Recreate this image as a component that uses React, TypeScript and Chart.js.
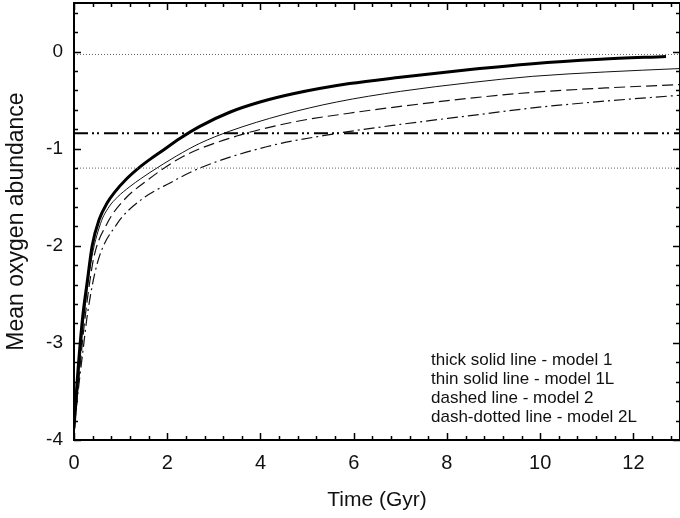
import { useEffect, useRef } from "react";
import { Chart, registerables } from "chart.js";

Chart.register(...registerables);

// ---- data ----
const model1T = [0, 0.07, 0.18, 0.29, 0.39, 0.54, 0.71, 0.87, 1.13, 1.41, 1.63, 1.84, 2.27, 2.7, 3.34, 3.99, 4.7, 5.91, 7.0, 8.5, 9.84, 11.3, 12.7];
const model1V = [-3.88, -3.38, -2.76, -2.35, -2.0, -1.73, -1.56, -1.45, -1.31, -1.19, -1.11, -1.04, -0.895, -0.77, -0.625, -0.52, -0.435, -0.33, -0.265, -0.185, -0.125, -0.08, -0.05];

const model1LT = [0, 0.1, 0.2, 0.36, 0.57, 0.75, 0.93, 1.2, 1.43, 1.63, 2.2, 2.7, 3.34, 4.48, 5.63, 7.0, 8.5, 9.84, 11.4, 13.0];
const model1LV = [-3.9, -3.35, -2.8, -2.18, -1.77, -1.6, -1.5, -1.39, -1.31, -1.245, -1.075, -0.945, -0.82, -0.65, -0.52, -0.41, -0.32, -0.255, -0.21, -0.175];

const model2T = [0, 0.1, 0.2, 0.3, 0.43, 0.71, 1.07, 1.56, 2.34, 3.49, 4.77, 5.9, 7.0, 8.5, 9.84, 11.4, 13.0];
const model2V = [-3.9, -3.4, -2.9, -2.5, -2.11, -1.77, -1.53, -1.33, -1.08, -0.87, -0.72, -0.635, -0.565, -0.48, -0.42, -0.375, -0.34];

const model2LT = [0, 0.1, 0.2, 0.29, 0.5, 0.93, 1.43, 2.07, 2.7, 4.13, 5.55, 7.0, 8.5, 9.84, 11.4, 13.0];
const model2LV = [-3.9, -3.45, -3.05, -2.7, -2.18, -1.77, -1.53, -1.35, -1.2, -0.98, -0.85, -0.75, -0.66, -0.58, -0.51, -0.45];

const dottedLevels = [-0.03, -1.2];
const dashDotLevel = -0.84;

const xTickLabels = [0, 2, 4, 6, 8, 10, 12];
const yTickLabels = [-4, -3, -2, -1, 0];
const xMinorStep = 0.4;
const yMinorStep = 0.2;

const legendLines = [
  "thick solid line - model 1",
  "thin solid line - model 1L",
  "dashed line - model 2",
  "dash-dotted line - model 2L",
];

const X_MIN = 0;
const X_MAX = 13;
const Y_MIN = -4;
const Y_MAX = 0.5;

const FONT = '"Liberation Sans", Arial, Helvetica, sans-serif';

const pts = (t: number[], v: number[]) => t.map((x, i) => ({ x, y: v[i] }));
const flat = (level: number) => [
  { x: X_MIN, y: level },
  { x: X_MAX, y: level },
];

const framePlugin = {
  id: "frameTicks",
  afterDatasetsDraw(chart: any) {
    const { ctx, chartArea: a, scales } = chart;
    const xs = scales.x;
    const ys = scales.y;
    ctx.save();
    ctx.strokeStyle = "#000";
    ctx.lineWidth = 2;
    ctx.beginPath();
    ctx.moveTo(a.left, a.bottom);
    ctx.lineTo(a.left, a.top);
    ctx.lineTo(a.right, a.top);
    ctx.lineTo(a.right, a.bottom);
    ctx.closePath();
    ctx.stroke();

    ctx.lineWidth = 1.5;
    ctx.beginPath();
    const nx = Math.round((X_MAX - X_MIN) / xMinorStep);
    for (let i = 0; i <= nx; i++) {
      const v = X_MIN + i * xMinorStep;
      const major = xTickLabels.some((t) => Math.abs(t - v) < 1e-6);
      const len = major ? 7 : 4;
      const px = Math.round(xs.getPixelForValue(v)) + 0.5;
      ctx.moveTo(px, a.bottom);
      ctx.lineTo(px, a.bottom - len);
      ctx.moveTo(px, a.top);
      ctx.lineTo(px, a.top + len);
    }
    const ny = Math.round((Y_MAX - Y_MIN) / yMinorStep);
    for (let i = 0; i <= ny; i++) {
      const v = Y_MIN + i * yMinorStep;
      const major = yTickLabels.some((t) => Math.abs(t - v) < 1e-6);
      const len = major ? 7 : 4;
      const py = Math.round(ys.getPixelForValue(v)) + 0.5;
      ctx.moveTo(a.left, py);
      ctx.lineTo(a.left + len, py);
      ctx.moveTo(a.right, py);
      ctx.lineTo(a.right - len, py);
    }
    ctx.stroke();

    ctx.font = `17px ${FONT}`;
    ctx.fillStyle = "#111";
    ctx.textBaseline = "middle";
    ctx.textAlign = "left";
    legendLines.forEach((t, i) => ctx.fillText(t, a.left + 357, 360 + i * 19));
    ctx.restore();
  },
};

export default function App() {
  const ref = useRef<HTMLCanvasElement | null>(null);

  useEffect(() => {
    document.body.style.margin = "0";
    const canvas = ref.current;
    if (!canvas) return;
    const common = { pointRadius: 0, fill: false, cubicInterpolationMode: "monotone" as const };
    const chart = new Chart(canvas, {
      type: "line",
      data: {
        datasets: [
          ...dottedLevels.map((lv) => ({
            data: flat(lv),
            borderColor: "#666",
            borderWidth: 1,
            borderDash: [1, 2],
            pointRadius: 0,
            fill: false,
          })),
          {
            data: flat(dashDotLevel),
            borderColor: "#000",
            borderWidth: 2,
            borderDash: [14, 4, 2, 3, 2, 5],
            pointRadius: 0,
            fill: false,
          },
          { ...common, label: "model 1", data: pts(model1T, model1V), borderColor: "#000", borderWidth: 3 },
          { ...common, label: "model 1L", data: pts(model1LT, model1LV), borderColor: "#111", borderWidth: 1 },
          { ...common, label: "model 2", data: pts(model2T, model2V), borderColor: "#111", borderWidth: 1.2, borderDash: [11, 5] },
          { ...common, label: "model 2L", data: pts(model2LT, model2LV), borderColor: "#111", borderWidth: 1.2, borderDash: [11, 4, 2, 4] },
        ],
      },
      options: {
        responsive: false,
        animation: false,
        layout: { padding: { top: 3, right: 0, bottom: 0, left: 0 } },
        plugins: { legend: { display: false }, tooltip: { enabled: false } },
        scales: {
          x: {
            type: "linear",
            min: X_MIN,
            max: X_MAX,
            afterFit: (s: any) => {
              s.height = 78;
              s.paddingLeft = 0;
              s.paddingRight = 0;
            },
            grid: { display: false, drawTicks: false },
            border: { display: false },
            ticks: {
              stepSize: 2,
              includeBounds: false,
              autoSkip: false,
              maxRotation: 0,
              padding: 11,
              color: "#111",
              font: { family: FONT, size: 20 },
            },
            title: {
              display: true,
              text: "Time (Gyr)",
              color: "#111",
              font: { family: FONT, size: 21 },
              padding: { top: 0, bottom: 5 },
            },
          },
          y: {
            type: "linear",
            min: Y_MIN,
            max: Y_MAX,
            afterFit: (s: any) => {
              s.width = 74;
              s.paddingTop = 0;
              s.paddingBottom = 0;
            },
            grid: { display: false, drawTicks: false },
            border: { display: false },
            ticks: {
              stepSize: 1,
              includeBounds: false,
              padding: 11,
              color: "#111",
              font: { family: FONT, size: 19 },
            },
            title: {
              display: true,
              text: "Mean oxygen abundance",
              color: "#111",
              font: { family: FONT, size: 23 },
              padding: { top: 3, bottom: 0 },
            },
          },
        },
      },
      plugins: [framePlugin],
    });
    return () => chart.destroy();
  }, []);

  return <canvas ref={ref} width={680} height={518} style={{ display: "block" }} />;
}
